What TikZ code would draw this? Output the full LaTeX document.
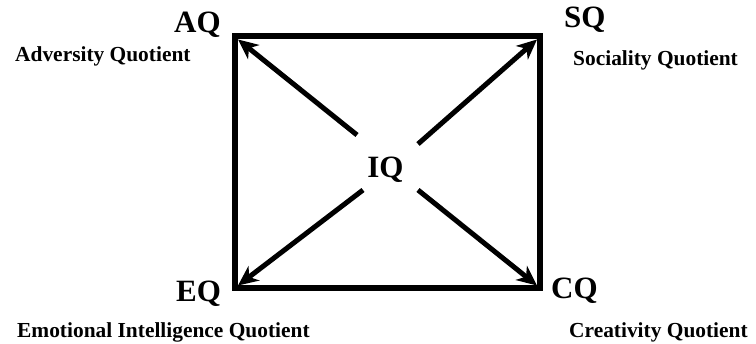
\documentclass[tikz,border=0pt]{standalone}
\usepackage{fontspec}
\setmainfont{Liberation Serif}
\usetikzlibrary{arrows.meta}
\begin{document}
\begin{tikzpicture}[x=1pt,y=-1pt,
  big/.style={font=\fontsize{31}{33}\selectfont\bfseries,inner sep=0pt,anchor=base west},
  small/.style={font=\fontsize{21.4}{24}\selectfont\bfseries,inner sep=0pt,anchor=base west},
  frame/.style={line width=6pt,line join=miter},
  arr/.style={line width=5pt,-{Stealth[length=20pt,width=18pt,inset=6pt]}}]
\useasboundingbox (0,0) rectangle (756,344);
\fill[white] (0,0) rectangle (756,344);
% frame
\coordinate (tl) at (235,36.5);
\coordinate (tr) at (540,36.5);
\coordinate (br) at (540,288.5);
\coordinate (bl) at (235,288.5);
\draw[frame] (tl) -- (tr) -- (br) -- (bl) -- cycle;
% inner corners
\coordinate (itl) at (238,39.5);
\coordinate (itr) at (537,39.5);
\coordinate (ibl) at (238,285.5);
\coordinate (ibr) at (537,285.5);
% arrow starts
\coordinate (sul) at (357,135);
\coordinate (sur) at (418,144);
\coordinate (sll) at (363,190);
\coordinate (slr) at (418,190);
\draw[arr] (sul) -- (itl);
\draw[arr] (sur) -- (itr);
\draw[arr] (sll) -- (ibl);
\draw[arr] (slr) -- (ibr);
% labels
\node[big] (aq) at (174,33) {AQ};
\node[small] (aqt) at (15,62) {Adversity Quotient};
\node[big] (sq) at (564,28) {SQ};
\node[small] (sqt) at (573,66) {Sociality Quotient};
\node[big] (eq) at (176,302) {EQ};
\node[small] (eqt) at (17,338) {Emotional Intelligence Quotient};
\node[big] (cq) at (551,299) {CQ};
\node[small] (cqt) at (569,338) {Creativity Quotient};
\node[big,anchor=base] (iq) at (385.5,178) {IQ};
\end{tikzpicture}
\end{document}
